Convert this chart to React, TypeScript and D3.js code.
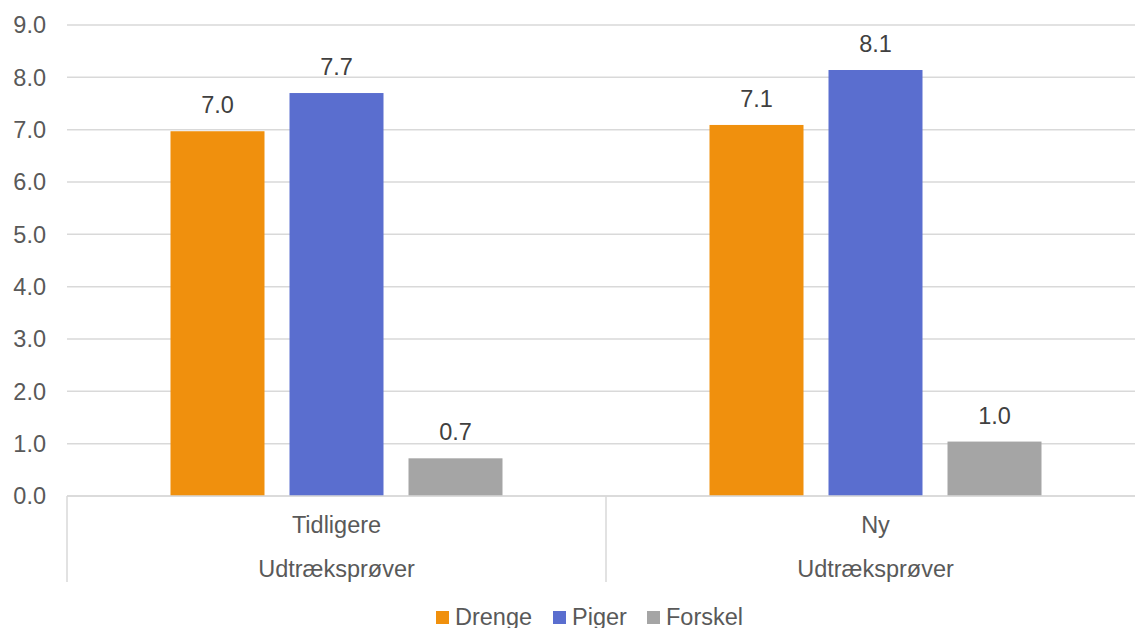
import React from "react";
import * as d3 from "d3";

const categories = ["Tidligere", "Ny"];
const groupLabel = "Udtræksprøver";
const seriesNames = ["Drenge", "Piger", "Forskel"];
const drenge = [6.97, 7.09];
const piger = [7.7, 8.14];
const forskel = [0.72, 1.04];
const yTicks = [0, 1, 2, 3, 4, 5, 6, 7, 8, 9];
const colors = ["#F0900D", "#5A6ECF", "#A5A5A5"];

export default function App() {
  const W = 1135, H = 628;
  const left = 67, right = 1145, top = 25, bottom = 496;
  const y = d3.scaleLinear().domain([0, 9]).range([bottom, top]);
  const x0 = d3.scaleBand().domain(categories).range([left, right]).paddingInner(0).paddingOuter(0);
  const bw = x0.bandwidth();
  const barW = bw * (94 / 539);
  const gap = bw * (25 / 539);
  const groupW = 3 * barW + 2 * gap;
  const series = [drenge, piger, forskel];
  const font = "'Liberation Sans', Arial, sans-serif";
  const textColor = "#595959";
  const fs = 23.5;

  const legendItems = [
    { x: 436, name: seriesNames[0] },
    { x: 553, name: seriesNames[1] },
    { x: 647, name: seriesNames[2] },
  ];

  return (
    <svg width={W} height={H} style={{ position: "absolute", left: 0, top: 0, background: "#fff" }} fontFamily={font}>
      {yTicks.map((t) => (
        <g key={t}>
          <line x1={left} x2={W} y1={y(t)} y2={y(t)} stroke="#D9D9D9" strokeWidth={1.5} />
          <text x={46} y={y(t)} dy="0.35em" textAnchor="end" fontSize={fs} fill={textColor}>
            {t.toFixed(1)}
          </text>
        </g>
      ))}
      {categories.map((c, i) => {
        const x = x0(c)!;
        const start = x + (bw - groupW) / 2;
        return (
          <g key={c}>
            {series.map((s, j) => {
              const bx = start + j * (barW + gap);
              return (
                <g key={j}>
                  <rect x={bx} y={y(s[i])} width={barW} height={y(0) - y(s[i])} fill={colors[j]} />
                  <text x={bx + barW / 2} y={y(s[i]) - 18} textAnchor="middle" fontSize={fs} fill="#404040">
                    {s[i].toFixed(1)}
                  </text>
                </g>
              );
            })}
            <text x={x + bw / 2} y={533} textAnchor="middle" fontSize={fs} fill={textColor}>{c}</text>
            <text x={x + bw / 2} y={577} textAnchor="middle" fontSize={fs} fill={textColor}>{groupLabel}</text>
            <line x1={x} x2={x} y1={bottom} y2={582} stroke="#D9D9D9" strokeWidth={1.5} />
          </g>
        );
      })}
      <line x1={left} x2={W} y1={bottom} y2={bottom} stroke="#D9D9D9" strokeWidth={1.5} />
      {legendItems.map((l, i) => (
        <g key={l.name}>
          <rect x={l.x} y={611} width={13} height={13} fill={colors[i]} />
          <text x={l.x + 19} y={625} fontSize={fs} fill={textColor}>{l.name}</text>
        </g>
      ))}
    </svg>
  );
}
